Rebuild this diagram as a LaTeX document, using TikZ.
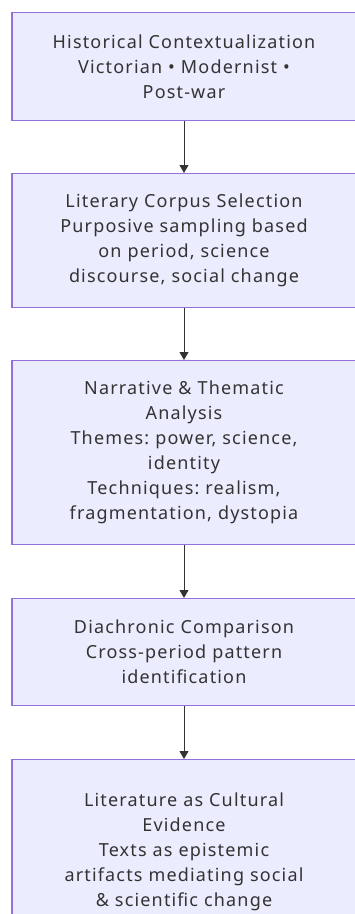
\documentclass[tikz,border=0pt]{standalone}
\usepackage{fontspec}
\setmainfont[LetterSpace=6.5]{Noto Sans}
\frenchspacing
\usetikzlibrary{arrows.meta}
\definecolor{boxfill}{HTML}{ECECFF}
\definecolor{boxline}{HTML}{9370DB}
\definecolor{ink}{HTML}{333333}
\begin{document}
\begin{tikzpicture}[x=1pt,y=-1pt,
        stage/.style={draw=boxline,fill=boxfill,line width=1.1pt,rectangle,minimum width=344pt,text width=330pt,inner sep=0pt,align=center,anchor=north,text=ink,font=\fontsize{18}{25}\selectfont},
        flow/.style={draw=ink,line width=0.9pt,-{Triangle[length=8pt,width=9pt]}}]
        %% Frame
        \useasboundingbox (0,0) rectangle (355,914);
        %% Stages
        \node[stage,minimum height=108pt] (hist) at (184,12) {Historical Contextualization\\Victorian • Modernist •\\Post-war};
        \node[stage,minimum height=134pt] (corpus) at (184,173) {Literary Corpus Selection\\Purposive sampling based\\on period, science\\discourse, social change};
        \node[stage,minimum height=184pt] (analysis) at (184,360) {Narrative \& Thematic\\Analysis\\Themes: power, science,\\identity\\Techniques: realism,\\fragmentation, dystopia};
        \node[stage,minimum height=107pt] (compare) at (184,598) {Diachronic Comparison\\Cross-period pattern\\identification};
        \node[stage,minimum height=184pt] (evidence) at (184,759) {Literature as Cultural\\Evidence\\Texts as epistemic\\artifacts mediating social\\\& scientific change};
        %% Flow
        \draw[flow] (hist) -- (corpus);
        \draw[flow] (corpus) -- (analysis);
        \draw[flow] (analysis) -- (compare);
        \draw[flow] (compare) -- (evidence);
    \end{tikzpicture}
\end{document}
